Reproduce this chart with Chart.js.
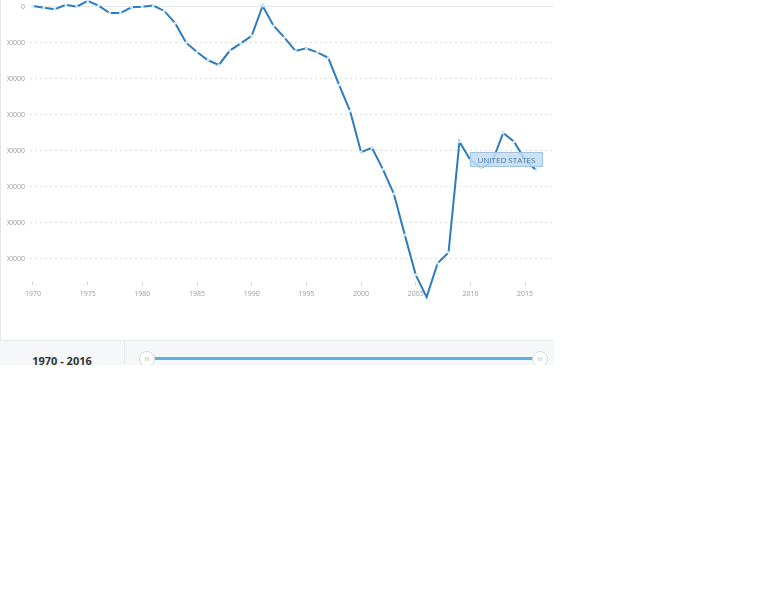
<!DOCTYPE html>
<html>
<head>
<meta charset="utf-8">
<script src="https://cdn.jsdelivr.net/npm/chart.js@4/dist/chart.umd.min.js"></script>
<style>
  html, body { margin: 0; padding: 0; background: #fff; }
  #frame { position: absolute; left: 0; top: 0; width: 554px; height: 365px; overflow: hidden; }
  #clip { position: absolute; left: 7px; top: 0; width: 547px; height: 340px; overflow: hidden; }
  #plot { position: absolute; left: -47px; top: 0; width: 593px; height: 340px; }
  #leftline { position: absolute; left: 0; top: 0; width: 1px; height: 341px; background: #e3e6ea; }
  #footer { position: absolute; left: 0; top: 340px; width: 554px; height: 30px; background: #f5f7f9; border-top: 1px solid #e8ebee; }
  #range { position: absolute; left: 0; top: 12px; width: 124px; text-align: center; font: bold 11px "Open Sans", sans-serif; color: #333; }
  #divider { position: absolute; left: 124px; top: 0; width: 1px; height: 30px; background: #e6e9ec; }
  #bar { position: absolute; left: 152px; top: 16px; width: 384px; height: 3px; background: #58b3e8; }
  .handle { position: absolute; top: 10px; width: 16px; height: 16px; border-radius: 50%; background: #fff; border: 1px solid #d4d8dc; box-sizing: border-box; font: 6px sans-serif; color: #bbb; text-align: center; line-height: 14px; }
  #label { position: absolute; left: 470px; top: 152px; width: 73px; height: 15px; box-sizing: border-box; background: rgba(196, 220, 240, 0.85); border: 1px solid #9ec2e2; color: #3c78b4; font: 8px "Open Sans", sans-serif; text-align: center; line-height: 13px; }
</style>
</head>
<body>
<div id="frame">
  <div id="clip"><div id="plot"><canvas id="chart"></canvas></div></div>
  <div id="leftline"></div>
  <div id="label">UNITED STATES</div>
  <div id="footer">
    <div id="range">1970 - 2016</div>
    <div id="divider"></div>
    <div id="bar"></div>
    <div class="handle" style="left:139px">III</div>
    <div class="handle" style="left:532px">III</div>
  </div>
</div>
<script>
// current account balance, billions of US$
const years = [1970, 1971, 1972, 1973, 1974, 1975, 1976, 1977, 1978, 1979,
               1980, 1981, 1982, 1983, 1984, 1985, 1986, 1987, 1988, 1989,
               1990, 1991, 1992, 1993, 1994, 1995, 1996, 1997, 1998, 1999,
               2000, 2001, 2002, 2003, 2004, 2005, 2006, 2007, 2008, 2009,
               2010, 2011, 2012, 2013, 2014, 2015, 2016];
const balance = [3, -2, -6, 6, 1, 17, 4, -17, -17, -1,
                 1, 4, -11, -45, -99, -125, -148, -161, -121, -101,
                 -80, 3, -52, -85, -122, -115, -126, -141, -217, -289,
                 -403, -391, -451, -519, -633, -744, -806, -712, -682, -374,
                 -425, -446, -430, -350, -374, -425, -453];
const yTicks = [0, -100, -200, -300, -400, -500, -600, -700];
const xTicks = [1970, 1975, 1980, 1985, 1990, 1995, 2000, 2005, 2010, 2015];

const tickFont = { family: '"Open Sans", sans-serif', size: 7 };

function noPad(axis) {
    axis.paddingTop = 0;
    axis.paddingBottom = 0;
    axis.paddingLeft = 0;
    axis.paddingRight = 0;
}

new Chart(document.getElementById('chart'), {
    type: 'line',
    data: {
        datasets: [{
            label: 'United States',
            data: years.map((y, i) => ({ x: y, y: balance[i] })),
            borderColor: '#2c7cbf',
            borderWidth: 2,
            pointRadius: 1.5,
            pointBorderWidth: 0,
            pointBackgroundColor: '#d6e7f5',
            tension: 0,
            clip: false
        }]
    },
    options: {
        responsive: true,
        maintainAspectRatio: false,
        animation: false,
        layout: { padding: 0, autoPadding: false },
        plugins: { legend: { display: false }, tooltip: { enabled: false } },
        scales: {
            x: {
                type: 'linear',
                min: 1969.726,
                max: 2017.555,
                afterBuildTicks: axis => { axis.ticks = xTicks.map(v => ({ value: v })); },
                afterFit: axis => { axis.height = 58; noPad(axis); },
                grid: { drawOnChartArea: false, drawTicks: true, tickLength: 3, tickColor: '#d0d0d0' },
                border: { display: false },
                ticks: { font: tickFont, color: '#9a9a9a', padding: 5, maxRotation: 0,
                         callback: v => String(v) }
            },
            y: {
                min: -763.9,
                max: 19.44,
                afterBuildTicks: axis => { axis.ticks = yTicks.map(v => ({ value: v })); },
                afterFit: axis => { axis.width = 70; noPad(axis); },
                grid: { drawTicks: false,
                        color: ctx => ctx.tick && ctx.tick.value === 0 ? '#e4e8ec' : '#dcdcdc' },
                border: { display: false,
                          dash: ctx => ctx.tick && ctx.tick.value === 0 ? [] : [2, 3] },
                ticks: { font: tickFont, color: '#9a9a9a', padding: 5,
                         callback: v => v === 0 ? '0' : '-' + Math.abs(v) + '000000000' }
            }
        }
    }
});
</script>
</body>
</html>
